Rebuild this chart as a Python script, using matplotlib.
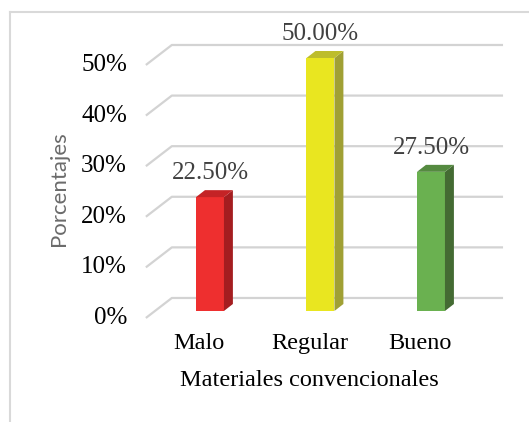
import matplotlib
matplotlib.use("Agg")
import matplotlib.pyplot as plt
from matplotlib.patches import Polygon
from matplotlib.lines import Line2D

# data
categorias = ["Malo", "Regular", "Bueno"]
porcentajes = [22.5, 50.0, 27.5]
ticks = [0, 10, 20, 30, 40, 50]

cara = ["#EE2F2F", "#E9E620", "#6AB150"]
lado = ["#A41D20", "#A0A034", "#446B33"]
tapa = ["#C42326", "#BDBD2C", "#558A40"]

serif = "Liberation Serif"

fig = plt.figure(figsize=(5.29, 4.22), dpi=100)
ax = fig.add_axes([0, 0, 1, 1])
ax.set_xlim(-1.900, 2.887)
ax.set_ylim(-21.94, 61.46)
ax.axis("off")

# fake 3d offsets (data units)
w = 0.253
dx, dy = 0.081, 1.38          # depth of each bar
fx, fy = -0.09, -1.38         # front edge of the floor/wall
bx, by = 0.145, 2.57          # back wall
x_izq, x_der = -0.58, 2.652

# gridlines: diagonal on the left, then along the back wall
for t in ticks:
    ax.plot([x_izq, x_izq + (bx - fx), x_der], [t + fy, t + by, t + by],
            color="#D3D3D3", lw=1.6, zorder=1, solid_capstyle="butt")

# bars
for i, v in enumerate(porcentajes):
    ax.bar(i, v, width=w, color=cara[i], zorder=3)
    r = i + w / 2
    l = i - w / 2
    ax.add_patch(Polygon([(r, 0), (r + dx, dy), (r + dx, v + dy), (r, v)],
                         closed=True, facecolor=lado[i], edgecolor="none", zorder=3))
    ax.add_patch(Polygon([(l, v), (r, v), (r + dx, v + dy), (l + dx, v + dy)],
                         closed=True, facecolor=tapa[i], edgecolor="none", zorder=3))
    ax.text(i, v + 4.8, f"{v:.2f}%", ha="center", va="center",
            fontsize=18, family=serif, color="#404040")
    ax.text(i - 0.1, -6.5, categorias[i], ha="center", va="center",
            fontsize=17.5, family=serif, color="black")

for t in ticks:
    ax.text(-0.751, t + fy, f"{t}%", ha="right", va="center",
            fontsize=18, family=serif, color="black")

ax.text(0.896, -13.8, "Materiales convencionales", ha="center", va="center",
        fontsize=17.5, family=serif, color="black")
ax.text(-1.367, 24.1, "Porcentajes", ha="center", va="center", rotation=90,
        fontsize=16, family="Lato", color="#6B6B6B")

# outer frame (top and left visible)
H, W = 422.0, 529.0
fig.add_artist(Line2D([10 / W, 1], [1 - 12 / H, 1 - 12 / H], color="#D9D9D9", lw=1.5))
fig.add_artist(Line2D([10 / W, 10 / W], [0, 1 - 12 / H], color="#D9D9D9", lw=1.5))

fig.savefig("out.png", dpi=100)
